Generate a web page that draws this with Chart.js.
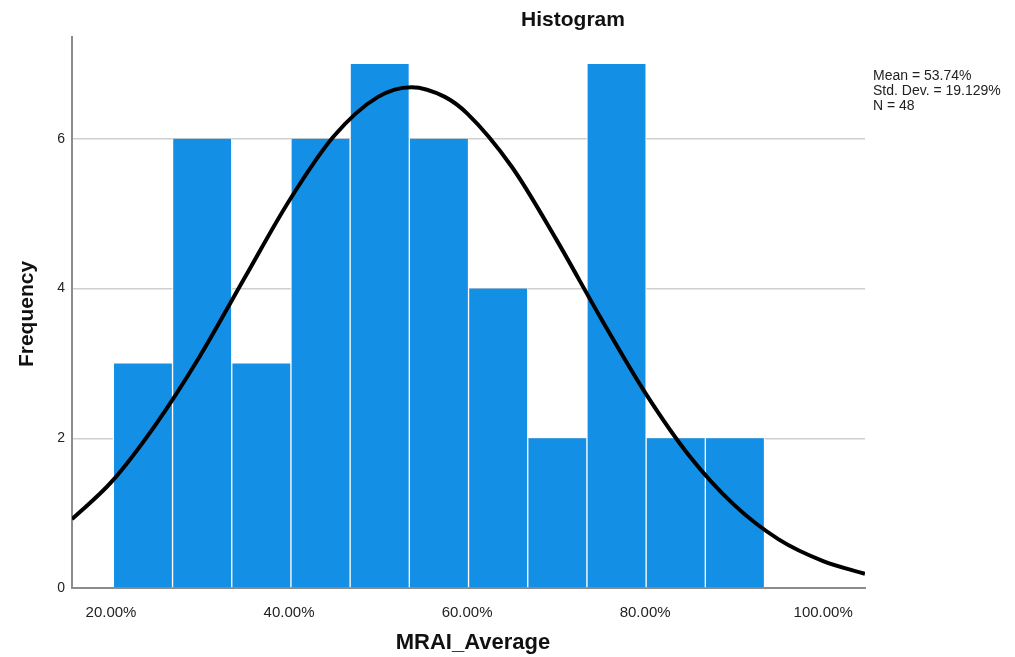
<!DOCTYPE html>
<html>
<head>
<meta charset="utf-8">
<script src="https://cdn.jsdelivr.net/npm/chart.js@4"></script>
<style>
  html, body { margin: 0; padding: 0; background: #fff; }
  #wrap { width: 1015px; height: 657px; }
</style>
</head>
<body>
<div id="wrap"><canvas id="myChart" width="1015" height="657"></canvas></div>
<script>
/* data */
const binCenters = [23.59, 30.24, 36.89, 43.54, 50.19, 56.84, 63.49, 70.14, 76.79, 83.44, 90.09];
const binCounts = [3, 6, 3, 6, 7, 6, 4, 2, 7, 2, 2];

const curveX = [15.62, 20, 25, 30, 35, 40, 45, 50, 53.74, 57.5, 60, 65, 70, 75, 80, 85, 90, 95, 100, 104.7];
const curveY = [0.92, 1.41, 2.18, 3.10, 4.14, 5.17, 6.03, 6.56, 6.69, 6.56, 6.34, 5.63, 4.66, 3.61, 2.61, 1.76, 1.11, 0.65, 0.36, 0.19];

const xTicks = [20, 40, 60, 80, 100];
const yTicks = [0, 2, 4, 6];
const statLines = ['Mean = 53.74%', 'Std. Dev. = 19.129%', 'N = 48'];

const FONT = "'Liberation Sans', Arial, sans-serif";

/* titles + stats box */
const textPlugin = {
  id: 'texts',
  afterDraw(chart) {
    const c = chart.ctx;
    c.save();
    c.fillStyle = '#111';
    c.textAlign = 'center';
    c.textBaseline = 'middle';
    c.font = 'bold 21px ' + FONT;
    c.fillText('Histogram', 573, 20);
    c.font = 'bold 22px ' + FONT;
    c.fillText('MRAI_Average', 473, 643);
    c.translate(27, 314);
    c.rotate(-Math.PI / 2);
    c.font = 'bold 21px ' + FONT;
    c.fillText('Frequency', 0, 0);
    c.restore();

    c.save();
    c.fillStyle = '#222';
    c.font = '14px ' + FONT;
    c.textAlign = 'left';
    c.textBaseline = 'alphabetic';
    statLines.forEach((s, i) => c.fillText(s, 873, 80 + i * 15));
    c.restore();
  }
};

const ctx = document.getElementById('myChart').getContext('2d');
const myChart = new Chart(ctx, {
  data: {
    datasets: [
      {
        type: 'line',
        data: curveX.map((x, i) => ({x: x, y: curveY[i]})),
        borderColor: '#000',
        borderWidth: 4,
        pointRadius: 0,
        cubicInterpolationMode: 'monotone',
        fill: false,
        order: 0
      },
      {
        type: 'bar',
        data: binCenters.map((x, i) => ({x: x, y: binCounts[i]})),
        backgroundColor: '#148fe6',
        borderColor: '#fff',
        borderWidth: {left: 1, right: 1, top: 0, bottom: 0},
        barPercentage: 1,
        categoryPercentage: 1,
        order: 1
      }
    ]
  },
  options: {
    responsive: false,
    animation: false,
    layout: {padding: {top: 37, right: 150, left: 0, bottom: 0}},
    plugins: {legend: {display: false}, tooltip: {enabled: false}},
    scales: {
      x: {
        type: 'linear',
        min: 15.62,
        max: 104.7,
        offset: false,
        afterBuildTicks: s => { s.ticks = xTicks.map(v => ({value: v})); },
        afterFit: s => { s.height = 69; },
        grid: {display: false, offset: false},
        border: {display: true, color: '#8c8c8c', width: 2},
        ticks: {
          padding: 8,
          color: '#222',
          font: {family: FONT, size: 15},
          maxRotation: 0,
          callback: v => v.toFixed(2) + '%'
        }
      },
      y: {
        min: 0,
        max: 7.36,
        afterBuildTicks: s => { s.ticks = yTicks.map(v => ({value: v})); },
        afterFit: s => { s.width = 72; },
        grid: {color: '#cfcfcf', lineWidth: 1.5, drawTicks: false},
        border: {display: true, color: '#8c8c8c', width: 2},
        ticks: {
          padding: 7,
          color: '#222',
          font: {family: FONT, size: 14}
        }
      }
    }
  },
  plugins: [textPlugin]
});
</script>
</body>
</html>
